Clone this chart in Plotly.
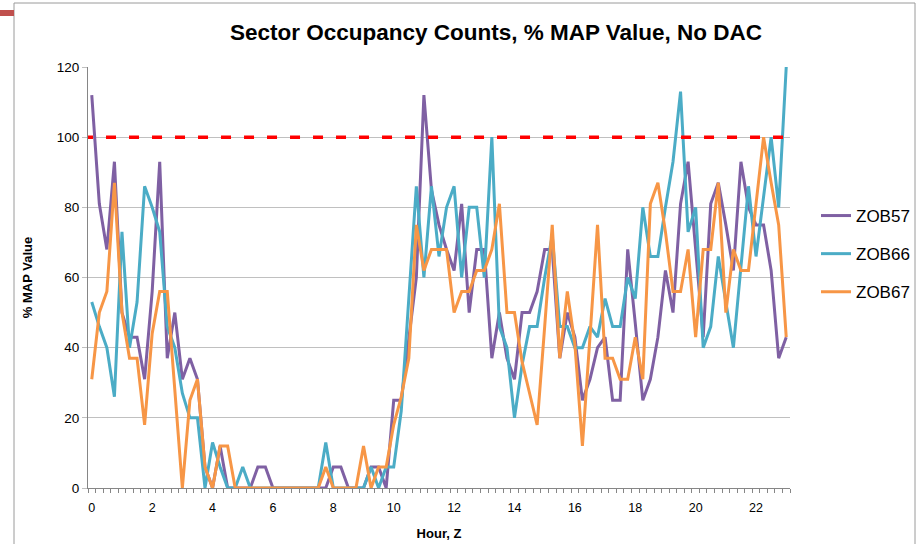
import plotly.graph_objects as go

# 15-minute samples, hour of day
hours = [i / 4 for i in range(93)]

zob57 = [112, 81, 68, 93, 50, 43, 43, 31, 56, 93,
         37, 50, 31, 37, 31, 6, 0, 12, 0, 0,
         0, 0, 6, 6, 0, 0, 0, 0, 0, 0,
         0, 0, 6, 6, 0, 0, 0, 6, 6, 0,
         25, 25, 43, 60, 112, 85, 75, 68, 62, 81,
         50, 68, 68, 37, 50, 37, 31, 50, 50, 56,
         68, 68, 37, 50, 43, 25, 31, 40, 43, 25,
         25, 68, 47, 25, 31, 43, 62, 50, 81, 93,
         68, 43, 81, 87, 75, 62, 93, 80, 75, 75,
         62, 37, 43]

zob66 = [53, 46, 40, 26, 73, 40, 53, 86, 80, 73,
         46, 40, 27, 20, 20, 0, 13, 6, 0, 0,
         6, 0, 0, 0, 0, 0, 0, 0, 0, 0,
         0, 13, 0, 0, 0, 0, 0, 6, 0, 6,
         6, 22, 55, 86, 60, 86, 66, 80, 86, 60,
         80, 80, 60, 100, 46, 40, 20, 35, 46, 46,
         60, 72, 46, 46, 40, 40, 46, 43, 54, 46,
         46, 60, 54, 80, 66, 66, 80, 93, 113, 73,
         80, 40, 46, 66, 53, 40, 63, 86, 66, 83,
         100, 80, 120]

zob67 = [31, 50, 56, 87, 50, 37, 37, 18, 44, 56,
         56, 28, 0, 25, 31, 6, 0, 12, 12, 0,
         0, 0, 0, 0, 0, 0, 0, 0, 0, 0,
         0, 6, 0, 0, 0, 0, 12, 0, 6, 6,
         18, 26, 37, 75, 62, 68, 68, 68, 50, 56,
         56, 62, 62, 68, 81, 50, 50, 36, 27, 18,
         46, 75, 37, 56, 41, 12, 43, 75, 37, 37,
         31, 31, 43, 31, 81, 87, 73, 56, 56, 68,
         43, 68, 68, 87, 50, 68, 62, 62, 81, 100,
         87, 75, 43]

map_limit = 100
x_tick_vals = [0, 2, 4, 6, 8, 10, 12, 14, 16, 18, 20, 22]
x_tick_text = ["0", "2", "4", "6", "8", "10", "12", "14", "16", "18", "20", "22"]
y_tick_vals = [0, 20, 40, 60, 80, 100, 120]

series = [("ZOB57", zob57, "#7F60A3"),
          ("ZOB66", zob66, "#4BACC6"),
          ("ZOB67", zob67, "#F79646")]

FONT = "Liberation Sans, Arial, sans-serif"
W, H = 918, 544
L, R, T, B = 88, 790, 67, 488  # plot area in pixels

fig = go.Figure()
for name, vals, col in series:
    fig.add_trace(go.Scatter(x=hours, y=vals, mode="lines", name=name,
                             legendgroup=name,
                             line=dict(color=col, width=3)))

fig.add_shape(type="line", xref="x", yref="y", x0=-0.29, x1=23.125,
              y0=map_limit, y1=map_limit,
              line=dict(color="#FF0000", width=3.5, dash="10px,13px"))

def px_x(p):
    return (p - L) / (R - L)

def px_y(p):
    return (B - p) / (B - T)

# slide frame
fig.add_shape(type="rect", xref="paper", yref="paper",
              x0=px_x(14), x1=px_x(915), y0=px_y(560), y1=px_y(3),
              line=dict(color="#9A9A9A", width=1), layer="below")
fig.add_shape(type="rect", xref="paper", yref="paper",
              x0=px_x(0), x1=px_x(14), y0=px_y(16), y1=px_y(10),
              line=dict(width=0), fillcolor="#C0504D", layer="below")

fig.update_layout(
    width=W, height=H,
    margin=dict(l=L, r=W - R, t=T, b=H - B, autoexpand=False),
    paper_bgcolor="white", plot_bgcolor="white",
    font=dict(family=FONT, size=13, color="black"),
    title=dict(text="<b>Sector Occupancy Counts, % MAP Value, No DAC</b>",
               xref="container", yref="container",
               x=496 / W, xanchor="center", y=1 - 32 / H, yanchor="middle",
               font=dict(family=FONT, size=22.5, color="black")),
    showlegend=True,
    legend=dict(xref="container", yref="container",
                x=816 / W, xanchor="left", y=1 - 198 / H, yanchor="top",
                font=dict(family=FONT, size=17, color="black"),
                tracegroupgap=13, traceorder="grouped",
                bgcolor="rgba(0,0,0,0)", itemwidth=30),
    xaxis=dict(range=[-0.125, 23.125], tickvals=x_tick_vals, ticktext=x_tick_text,
               automargin=False,
               showgrid=False, zeroline=False, showline=True, linecolor="#868686",
               linewidth=1, ticks="", ticklabelstandoff=8,
               minor=dict(ticks="outside", tick0=-0.125, dtick=0.25, ticklen=4,
                          tickcolor="#868686", showgrid=False),
               tickfont=dict(size=12.5),
               title=dict(text="<b>Hour, Z</b>", font=dict(size=13), standoff=14)),
    yaxis=dict(range=[0, 120], tickvals=y_tick_vals, showgrid=True,
               automargin=False,
               gridcolor="#C0C0C0", gridwidth=1, zeroline=False,
               showline=True, linecolor="#868686", linewidth=1,
               ticks="outside", ticklen=5, tickcolor="#C0C0C0",
               tickfont=dict(size=13.5),
               title=dict(text="<b>% MAP Value</b>", font=dict(size=13), standoff=21)),
)

fig.write_html("out.html", config={"displayModeBar": False},
               post_script="document.body.style.margin='0px';")
